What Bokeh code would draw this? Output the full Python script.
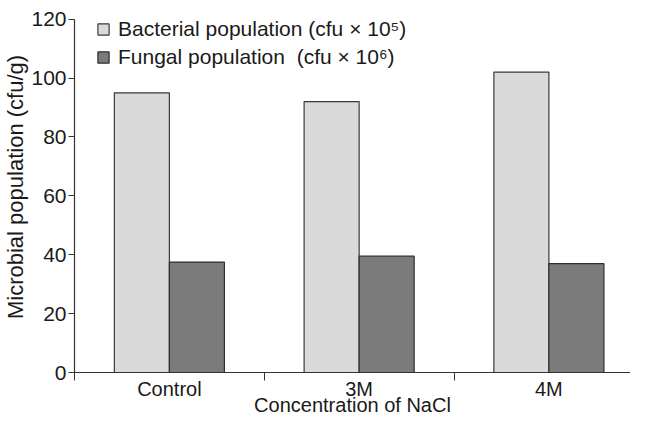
from bokeh.plotting import figure
from bokeh.models import FixedTicker, Legend, LegendItem, Range1d, ColumnDataSource
from bokeh.embed import file_html
from bokeh.resources import INLINE

categories = ["Control", "3M", "4M"]
bacterial = [95, 92, 102]
fungal = [37.5, 39.5, 37]
y_ticks = [0, 20, 40, 60, 80, 100, 120]

FONT = "Liberation Sans"
TXT = "#1a1a1a"

idx = list(range(len(categories)))
bw = 0.29
src = ColumnDataSource(dict(
    xb=[i + 0.5 - bw / 2 for i in idx],
    xf=[i + 0.5 + bw / 2 for i in idx],
    bact=bacterial,
    fung=fungal,
))

p = figure(width=630, height=418, output_backend="svg", toolbar_location=None,
           x_range=Range1d(0, 2.93), y_range=Range1d(0, 126),
           min_border_left=68, min_border_top=1, min_border_bottom=30, min_border_right=0)
p.grid.visible = False
p.outline_line_color = None
p.background_fill_color = "white"
p.border_fill_color = "white"

rb = p.vbar(x="xb", top="bact", width=bw, bottom=0, source=src,
            fill_color="#dadada", line_color="#3a3a3a", line_width=1.2)
rf = p.vbar(x="xf", top="fung", width=bw, bottom=0, source=src,
            fill_color="#7b7b7b", line_color="#2e2e2e", line_width=1.2)

xa = p.xaxis[0]
xa.ticker = FixedTicker(ticks=[i + 0.5 for i in idx], minor_ticks=[0, 1, 2, 3])
xa.major_label_overrides = {i + 0.5: c for i, c in zip(idx, categories)}
xa.major_tick_out = 0
xa.major_tick_in = 0
xa.minor_tick_out = 8
xa.minor_tick_in = 0
xa.minor_tick_line_color = "#333333"
xa.axis_line_color = "#333333"
xa.axis_line_width = 1.2
xa.major_label_text_font = FONT
xa.major_label_text_font_size = "20px"
xa.major_label_text_color = TXT
xa.major_label_standoff = -3
xa.axis_label = "Concentration of NaCl"
xa.axis_label_text_font = FONT
xa.axis_label_text_font_size = "20px"
xa.axis_label_text_font_style = "normal"
xa.axis_label_text_color = TXT
xa.axis_label_standoff = -9

ya = p.yaxis[0]
ya.ticker = FixedTicker(ticks=y_ticks)
ya.bounds = (0, 120)
ya.major_tick_out = 6
ya.major_tick_in = 0
ya.minor_tick_out = 0
ya.minor_tick_in = 0
ya.major_tick_line_color = "#333333"
ya.axis_line_color = "#333333"
ya.axis_line_width = 1.2
ya.major_label_text_font = FONT
ya.major_label_text_font_size = "21px"
ya.major_label_text_color = TXT
ya.major_label_standoff = 2
ya.axis_label = "Microbial population (cfu/g)"
ya.axis_label_text_font = FONT
ya.axis_label_text_font_size = "22px"
ya.axis_label_text_font_style = "normal"
ya.axis_label_text_color = TXT
ya.axis_label_standoff = 0

legend = Legend(items=[
    LegendItem(label="Bacterial population (cfu × 10⁵)", renderers=[rb]),
    LegendItem(label="Fungal population  (cfu × 10⁶)", renderers=[rf]),
], location=(22, 303))
legend.border_line_color = None
legend.background_fill_alpha = 0
legend.label_text_font = FONT
legend.label_text_font_size = "21px"
legend.label_text_color = TXT
legend.glyph_width = 14
legend.glyph_height = 14
legend.label_standoff = 8
legend.spacing = 4
legend.padding = 0
legend.margin = 0
p.add_layout(legend, "center")

open("out.html", "w").write(file_html(p, INLINE))
